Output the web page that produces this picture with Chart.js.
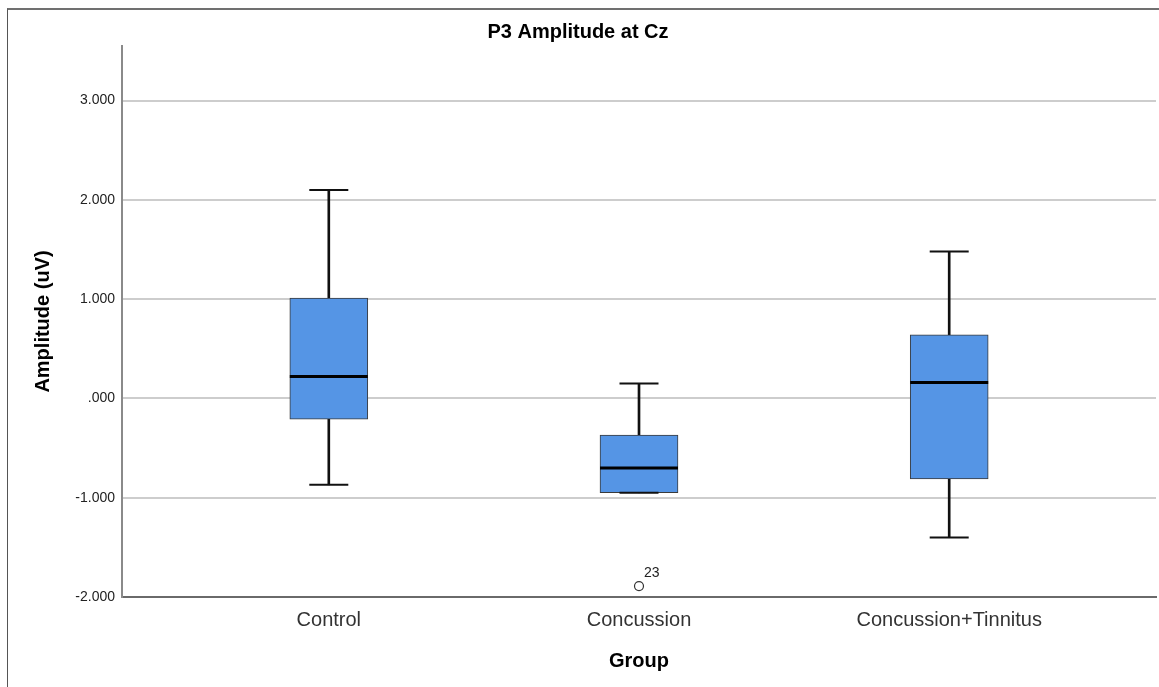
<!DOCTYPE html>
<html>
<head>
<meta charset="utf-8">
<title>P3 Amplitude at Cz</title>
<script src="https://cdn.jsdelivr.net/npm/chart.js@4.4.1/dist/chart.umd.min.js"></script>
<style>
  html, body { margin: 0; padding: 0; background: #fff; }
  #wrap { position: relative; width: 1159px; height: 687px; overflow: hidden; }
  #frame {
    position: absolute; left: 7px; top: 8px; width: 1200px; height: 700px;
    border-top: 2px solid #707070; border-left: 1px solid #555;
    pointer-events: none;
  }
</style>
</head>
<body>
<div id="wrap">
  <canvas id="chart" width="1159" height="687"></canvas>
  <div id="frame"></div>
</div>
<script>
// groups on the x axis
const groups = ['Control', 'Concussion', 'Concussion+Tinnitus'];
const groupPos = [1, 2, 3];

// box plot statistics per group (uV)
const whiskerLow = [-0.87, -0.95, -1.40];
const q1 = [-0.21, -0.95, -0.81];
const median = [0.22, -0.70, 0.16];
const q3 = [1.01, -0.37, 0.64];
const whiskerHigh = [2.10, 0.15, 1.48];

// outliers
const outlierPos = [2];
const outlierValue = [-1.89];
const outlierLabel = ['23'];

// y axis ticks
const yTicks = [-2, -1, 0, 1, 2, 3];

const FONT = "'Liberation Sans', Arial, sans-serif";
const boxColor = '#5595e5';

const pts = (vals) => groupPos.map((x, i) => ({ x, y: vals[i] }));
const ranges = (lo, hi) => groupPos.map((x, i) => ({ x, y: [lo[i], hi[i]] }));

// label next to each outlier point
const outlierLabels = {
  id: 'outlierLabels',
  afterDatasetsDraw(chart) {
    const { ctx, scales } = chart;
    ctx.save();
    ctx.font = '14px ' + FONT;
    ctx.fillStyle = '#222';
    ctx.textBaseline = 'middle';
    ctx.textAlign = 'left';
    outlierPos.forEach((g, i) => {
      const px = scales.x.getPixelForValue(g);
      const py = scales.y.getPixelForValue(outlierValue[i]);
      ctx.fillText(outlierLabel[i], px + 5, py - 13);
    });
    ctx.restore();
  }
};

new Chart(document.getElementById('chart'), {
  type: 'bar',
  data: {
    datasets: [
      {
        type: 'line', label: 'outliers', showLine: false,
        data: outlierPos.map((x, i) => ({ x, y: outlierValue[i] })),
        pointStyle: 'circle', pointRadius: 4.5,
        pointBackgroundColor: '#fff', pointBorderColor: '#333', pointBorderWidth: 1.2
      },
      {
        type: 'line', label: 'median', showLine: false, data: pts(median),
        pointStyle: 'line', pointRadius: 39, pointBorderWidth: 3, pointBorderColor: '#000'
      },
      {
        type: 'line', label: 'cap high', showLine: false, data: pts(whiskerHigh),
        pointStyle: 'line', pointRadius: 19.5, pointBorderWidth: 2, pointBorderColor: '#111'
      },
      {
        type: 'line', label: 'cap low', showLine: false, data: pts(whiskerLow),
        pointStyle: 'line', pointRadius: 19.5, pointBorderWidth: 2, pointBorderColor: '#111'
      },
      {
        label: 'box', data: ranges(q1, q3), grouped: false, barThickness: 78,
        backgroundColor: boxColor, borderColor: '#3a3a3a', borderWidth: 1, borderSkipped: false
      },
      {
        label: 'whisker high', data: ranges(q3, whiskerHigh), grouped: false, barThickness: 2,
        backgroundColor: '#111', borderWidth: 0
      },
      {
        label: 'whisker low', data: ranges(whiskerLow, q1), grouped: false, barThickness: 2,
        backgroundColor: '#111', borderWidth: 0
      }
    ]
  },
  options: {
    responsive: false,
    animation: false,
    events: [],
    layout: { autoPadding: false, padding: { left: 0, right: 3, top: 0, bottom: 0 } },
    plugins: {
      legend: { display: false },
      tooltip: { enabled: false },
      title: {
        display: true,
        text: 'P3 Amplitude at Cz',
        color: '#000',
        font: { family: FONT, size: 20, weight: 'bold' },
        padding: { top: 20, bottom: 2 }
      }
    },
    scales: {
      x: {
        type: 'linear',
        min: 1 / 3,
        max: 11 / 3,
        offset: false,
        afterBuildTicks: (axis) => { axis.ticks = groupPos.map(v => ({ value: v })); },
        afterFit: (axis) => { axis.height = 90; },
        grid: { display: false, offset: false, drawTicks: false },
        border: { display: true, color: '#6a6a6a', width: 2 },
        ticks: {
          padding: 11,
          color: '#333',
          font: { family: FONT, size: 20 },
          callback: (v) => groups[groupPos.indexOf(v)] || ''
        },
        title: {
          display: true,
          text: 'Group',
          color: '#000',
          font: { family: FONT, size: 20, weight: 'bold' },
          padding: { top: 0, bottom: 14 }
        }
      },
      y: {
        min: -2,
        max: 3.55,
        afterBuildTicks: (axis) => { axis.ticks = yTicks.map(v => ({ value: v })); },
        afterFit: (axis) => { axis.width = 122; },
        grid: { color: '#cdcdcd', lineWidth: 2, drawTicks: false },
        border: { display: true, color: '#8a8a8a', width: 2 },
        ticks: {
          padding: 7,
          color: '#222',
          font: { family: FONT, size: 14 },
          callback: (v) => {
            const s = Math.abs(v).toFixed(3).replace(/^0/, '');
            return (v < 0 ? '-' : '') + s;
          }
        },
        title: {
          display: true,
          text: 'Amplitude (uV)',
          color: '#000',
          font: { family: FONT, size: 20, weight: 'bold' },
          padding: { top: 31, bottom: 0 }
        }
      }
    }
  },
  plugins: [outlierLabels]
});
</script>
</body>
</html>
